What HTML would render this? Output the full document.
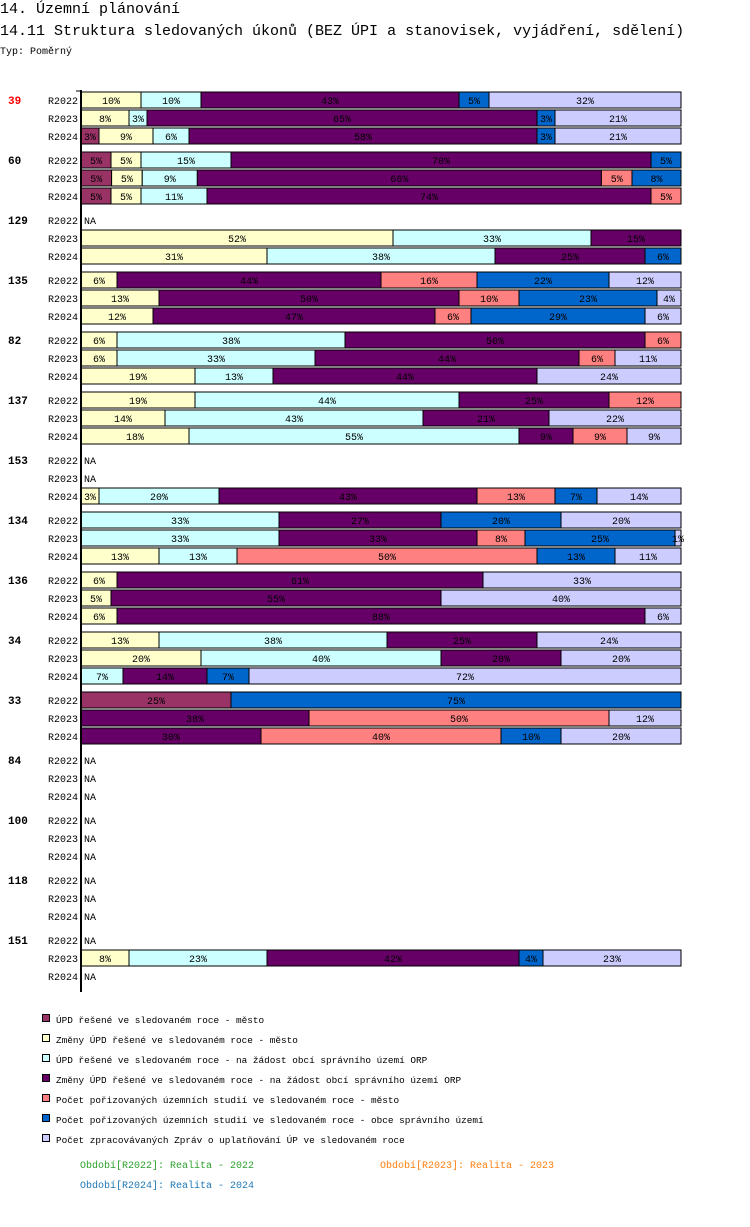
<!DOCTYPE html>
<html><head><meta charset="utf-8"><style>
body{margin:0;background:#fff;width:750px;height:1222px;overflow:hidden;font-family:"Liberation Mono","DejaVu Sans Mono",monospace;}
svg text{font-family:"Liberation Mono","DejaVu Sans Mono",monospace;}
</style></head><body>
<svg id="chart" width="750" height="1222" xmlns="http://www.w3.org/2000/svg">
<text x="0" y="13" font-size="15" fill="#000">14. Územní plánování</text>
<text x="0" y="35" font-size="15" fill="#000">14.11 Struktura sledovaných úkonů (BEZ ÚPI a stanovisek, vyjádření, sdělení)</text>
<text x="0" y="54" font-size="10" fill="#000">Typ: Poměrný</text>
<g id="bars"></g>
<line x1="81" y1="90" x2="81" y2="992" stroke="#000" stroke-width="2"/>
<line x1="76" y1="91" x2="81" y2="91" stroke="#000" stroke-width="1"/>
<g id="legend"></g>
<text x="80" y="1168" font-size="10" fill="#2ca02c">Období[R2022]: Realita - 2022</text>
<text x="380" y="1168" font-size="10" fill="#ff7f0e">Období[R2023]: Realita - 2023</text>
<text x="80" y="1188" font-size="10" fill="#1f77b4">Období[R2024]: Realita - 2024</text>
</svg>
<script>
const groups = ["39","60","129","135","82","137","153","134","136","34","33","84","100","118","151"];
const periods = ["R2022","R2023","R2024"];
const seriesNames = ["ÚPD řešené ve sledovaném roce - město","Změny ÚPD řešené ve sledovaném roce - město","ÚPD řešené ve sledovaném roce - na žádost obcí správního území ORP","Změny ÚPD řešené ve sledovaném roce - na žádost obcí správního území ORP","Počet pořizovaných územních studií ve sledovaném roce - město","Počet pořizovaných územních studií ve sledovaném roce - obce správního území","Počet zpracovávaných Zpráv o uplatňování ÚP ve sledovaném roce"];
const seriesColors = ["#993366","#FFFFCC","#CCFFFF","#660066","#FF8080","#0066CC","#CCCCFF"];
// values per group, per period: [s1..s7], null = NA
const values = [
 [[0,10,10,43,0,5,32],[0,8,3,65,0,3,21],[3,9,6,58,0,3,21]],
 [[5,5,15,70,0,5,0],[5,5,9,66,5,8,0],[5,5,11,74,5,0,0]],
 [null,[0,52,33,15,0,0,0],[0,31,38,25,0,6,0]],
 [[0,6,0,44,16,22,12],[0,13,0,50,10,23,4],[0,12,0,47,6,29,6]],
 [[0,6,38,50,6,0,0],[0,6,33,44,6,0,11],[0,19,13,44,0,0,24]],
 [[0,19,44,25,12,0,0],[0,14,43,21,0,0,22],[0,18,55,9,9,0,9]],
 [null,null,[0,3,20,43,13,7,14]],
 [[0,0,33,27,0,20,20],[0,0,33,33,8,25,1],[0,13,13,0,50,13,11]],
 [[0,6,0,61,0,0,33],[0,5,0,55,0,0,40],[0,6,0,88,0,0,6]],
 [[0,13,38,25,0,0,24],[0,20,40,20,0,0,20],[0,0,7,14,0,7,72]],
 [[25,0,0,0,0,75,0],[0,0,0,38,50,0,12],[0,0,0,30,40,10,20]],
 [null,null,null],[null,null,null],[null,null,null],
 [null,[0,8,23,42,0,4,23],null]
];
const NS="http://www.w3.org/2000/svg";
const x0=81, W=600;
function yRow(g,r){return 100+60*g+18*r;}
function xScale(v,total){return W*v/total;}
function mk(tag,attrs,parent){const e=document.createElementNS(NS,tag);for(const k in attrs)e.setAttribute(k,attrs[k]);parent.appendChild(e);return e;}
const bars=document.getElementById('bars');
groups.forEach((gname,g)=>{
  const gl=mk('text',{x:8,y:yRow(g,0)+4,'font-size':11,'font-weight':'bold',fill:g===0?'#ff0000':'#000'},bars);
  gl.textContent=gname;
  
  
  periods.forEach((p,r)=>{
    const yc=yRow(g,r);
    const pl=mk('text',{x:78,y:yc+4,'font-size':10,'text-anchor':'end',fill:'#000'},bars);
    pl.textContent=p;
    
    
    const vals=values[g][r];
    if(!vals){
      const na=mk('text',{x:84,y:yc+4,'font-size':10,fill:'#000'},bars);
      na.textContent='NA';
      
      
      return;
    }
    const total=vals.reduce((a,b)=>a+b,0);
    let acc=0;
    vals.forEach((v,s)=>{
      if(!v)return;
      const xa=x0+xScale(acc,total), w=xScale(v,total);
      const rc=mk('rect',{x:xa,y:yc-8,width:w,height:16,fill:seriesColors[s],stroke:'#000','stroke-width':1},bars);
      
      
      const t=mk('text',{x:xa+w/2,y:yc+4,'font-size':10,'text-anchor':'middle',fill:'#000'},bars);
      t.textContent=v+'%';
      
      
      acc+=v;
    });
  });
});
const leg=document.getElementById('legend');
seriesNames.forEach((n,i)=>{
  const y=1019+20*i;
  const sq=mk('rect',{x:42.5,y:y-4.5,width:7,height:7,fill:seriesColors[i],stroke:'#000','stroke-width':1},leg);
  
  
  const t=mk('text',{x:56,y:y+4,'font-size':9.4,fill:'#000'},leg);
  t.textContent=n;
  
  
});
</script>
</body></html>
